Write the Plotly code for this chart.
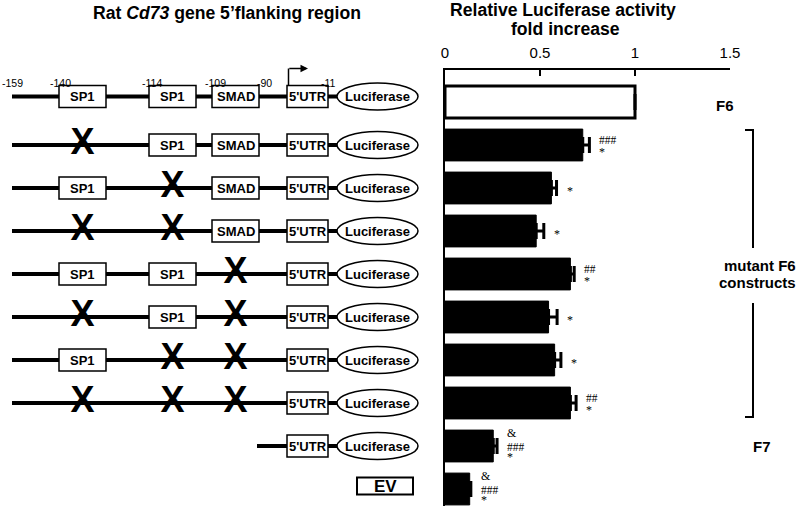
import plotly.graph_objects as go

# ---------------- data ----------------
constructs = ["F6", "mSP1a", "mSP1b", "mSP1a+b", "mSMAD", "mSP1a+SMAD",
              "mSP1b+SMAD", "mSP1a+b+SMAD", "F7", "EV"]
activity = [1.00, 0.725, 0.56, 0.48, 0.66, 0.545, 0.577, 0.66, 0.254, 0.13]
activity_sem = [0.0, 0.035, 0.027, 0.04, 0.02, 0.045, 0.033, 0.03, 0.02, 0.006]
sig_amp = ["", "", "", "", "", "", "", "", "&", "&"]
sig_hash = ["", "###", "", "", "##", "", "", "##", "###", "###"]
sig_star = ["", "*", "*", "*", "*", "*", "*", "*", "*", "*"]
site_names = ["SP1", "SP1", "SMAD"]
site_present = [[1, 1, 1], [0, 1, 1], [1, 0, 1], [0, 0, 1],
                [1, 1, 0], [0, 1, 0], [1, 0, 0], [0, 0, 0]]
coord_labels = ["-159", "-140", "-114", "-109", "-90", "-11"]
tick_vals = [0, 0.5, 1, 1.5]
tick_text = ["0", "0.5", "1", "1.5"]

# ---------------- layout constants (pixels) ----------------
W, H = 800, 506
ROW0_PX, ROW_PX, AXIS_TOP_PX = 102, 43, 70
BAR_L_PX, BAR_R_PX = 445, 730
F6_DIAG_SHIFT_PX = -5.5
LINE_START_PX, F7_LINE_START_PX = 12, 257
SITE_X = [82.5, 172.5, 235.5]
SITE_HW = 23.5
UTR_X, UTR_HW = 307.5, 20.5
LUC_X, LUC_HW, LUC_HH = 377.5, 40.5, 13.5
BOX_HH = 11
COORD_X = [12.5, 60, 151.5, 215, 264, 328]
ARROW_X0, ARROW_X1 = 288.5, 308
EV_X, EV_HW, EV_HH = 385, 28, 8.5
FONT = "Liberation Sans, Arial, sans-serif"
SERIF = "Liberation Serif, Times New Roman, serif"
# vertical pixel offsets (up = +) of significance symbols, by number of symbol lines
SIG_SHIFT = {1: {"*": -2.5},
             2: {"#": 5, "*": -7},
             3: {"&": 13, "#": -1, "*": -10.5}}
SIG_SIZE = {"&": 12, "#": 11.5, "*": 12}


def r2(row, dpx=0.0):
    return row + dpx / ROW_PX


def txt(text, x, y, size, xref="x2", yref="y2", xanchor="center", yanchor="middle",
        family=FONT, **kw):
    d = dict(xref=xref, yref=yref, x=x, y=y, text=text, showarrow=False,
             xanchor=xanchor, yanchor=yanchor,
             font=dict(family=family, size=size, color="black"))
    d.update(kw)
    return d


fig = go.Figure()

# ---------------- bars ----------------
fig.add_trace(go.Bar(
    x=activity, y=constructs, orientation="h", width=0.74,
    marker=dict(color=["white"] + ["black"] * (len(activity) - 1),
                line=dict(color="black", width=[3] + [1] * (len(activity) - 1))),
    error_x=dict(type="data", array=activity_sem, arrayminus=[0] * len(activity),
                 symmetric=False, color="black", thickness=3, width=8),
    xaxis="x", yaxis="y", showlegend=False, hoverinfo="skip",
))

shapes = []
annotations = []

# ---------------- construct diagrams ----------------
x_marks_x, x_marks_y = [], []
for r in range(9):
    dy = F6_DIAG_SHIFT_PX if r == 0 else 0
    yc = r2(r, dy)
    x0 = LINE_START_PX if r < 8 else F7_LINE_START_PX
    shapes.append(dict(type="line", xref="x2", yref="y2", x0=x0, x1=LUC_X,
                       y0=yc, y1=yc, line=dict(color="black", width=4), layer="below"))
    if r < 8:
        for k, name in enumerate(site_names):
            if site_present[r][k]:
                shapes.append(dict(type="rect", xref="x2", yref="y2",
                                   x0=SITE_X[k] - SITE_HW, x1=SITE_X[k] + SITE_HW,
                                   y0=r2(r, dy - BOX_HH), y1=r2(r, dy + BOX_HH),
                                   fillcolor="white", line=dict(color="black", width=1.5),
                                   layer="below"))
                annotations.append(txt("<b>%s</b>" % name, SITE_X[k], yc, 13))
            else:
                x_marks_x.append(SITE_X[k])
                x_marks_y.append(yc)
    shapes.append(dict(type="rect", xref="x2", yref="y2",
                       x0=UTR_X - UTR_HW, x1=UTR_X + UTR_HW,
                       y0=r2(r, dy - BOX_HH), y1=r2(r, dy + BOX_HH),
                       fillcolor="white", line=dict(color="black", width=1.5), layer="below"))
    annotations.append(txt("<b>5'UTR</b>", UTR_X, yc, 13))
    shapes.append(dict(type="circle", xref="x2", yref="y2",
                       x0=LUC_X - LUC_HW, x1=LUC_X + LUC_HW,
                       y0=r2(r, dy - LUC_HH), y1=r2(r, dy + LUC_HH),
                       fillcolor="white", line=dict(color="black", width=1.5), layer="below"))
    annotations.append(txt("<b>Luciferase</b>", LUC_X, yc, 13))

fig.add_trace(go.Scatter(
    x=x_marks_x, y=x_marks_y, mode="text", text=["<b>X</b>"] * len(x_marks_x),
    textfont=dict(family=FONT, size=36, color="black"), textposition="middle center",
    xaxis="x2", yaxis="y2", showlegend=False, hoverinfo="skip",
))

# coordinate labels and transcription start arrow for F6
for lbl, cx in zip(coord_labels, COORD_X):
    annotations.append(txt(lbl, cx, r2(0, F6_DIAG_SHIFT_PX - 14), 10.5))
arrow_y = r2(0, F6_DIAG_SHIFT_PX - 28)
shapes.append(dict(type="line", xref="x2", yref="y2", x0=ARROW_X0, x1=ARROW_X0,
                   y0=r2(0, F6_DIAG_SHIFT_PX - BOX_HH), y1=arrow_y,
                   line=dict(color="black", width=1.5)))
annotations.append(dict(xref="x2", yref="y2", axref="x2", ayref="y2",
                        x=ARROW_X1, y=arrow_y, ax=ARROW_X0 - 0.7, ay=arrow_y, text="",
                        showarrow=True, arrowhead=2, arrowsize=1, arrowwidth=1.5,
                        arrowcolor="black"))

# empty vector
shapes.append(dict(type="rect", xref="x2", yref="y2", x0=EV_X - EV_HW, x1=EV_X + EV_HW,
                   y0=r2(9, -3 - EV_HH), y1=r2(9, -3 + EV_HH),
                   fillcolor="white", line=dict(color="black", width=2)))
annotations.append(txt("<b>EV</b>", EV_X, r2(9, -3), 17))

# ---------------- significance marks ----------------
for i, c in enumerate(constructs):
    lines = [s for s in (sig_amp[i], sig_hash[i], sig_star[i]) if s]
    for s in lines:
        annotations.append(txt(s, activity[i] + activity_sem[i], c, SIG_SIZE[s[0]],
                               xref="x", yref="y", xanchor="left", family=SERIF,
                               xshift=8, yshift=SIG_SHIFT[len(lines)][s[0]]))

# ---------------- right-hand labels ----------------
annotations.append(txt("<b>F6</b>", 725, 0, 15, yshift=-3))
annotations.append(txt("<b>F7</b>", 762, 8, 15))
shapes.append(dict(type="path", xref="x2", yref="y2",
                   path="M 745,%f L 753,%f L 753,%f M 753,%f L 753,%f L 745,%f" % (
                       r2(1, -15), r2(1, -15), r2(4, -26), r2(4, 29), r2(7, 14), r2(7, 14)),
                   line=dict(color="black", width=2)))
annotations.append(txt("<b>mutant F6</b>", 798, r2(4, -8.5), 15, xanchor="right"))
annotations.append(txt("<b>constructs</b>", 798, r2(4, 8.5), 15, xanchor="right"))

# ---------------- titles ----------------
annotations.append(txt("<b>Rat <i>Cd73</i> gene 5’flanking region</b>", 227 / W, 1 - 13 / H,
                       17.6, xref="paper", yref="paper"))
annotations.append(txt("<b>Relative Luciferase activity</b>", 563 / W, 1 - 10 / H, 17.6,
                       xref="paper", yref="paper"))
annotations.append(txt("<b>fold increase</b>", 565 / W, 1 - 29 / H, 17.6,
                       xref="paper", yref="paper"))

fig.update_layout(
    width=W, height=H, margin=dict(l=0, r=0, t=0, b=0, pad=0, autoexpand=False),
    paper_bgcolor="white", plot_bgcolor="rgba(0,0,0,0)",
    font=dict(family=FONT, color="black"),
    showlegend=False,
    xaxis=dict(domain=[BAR_L_PX / W, BAR_R_PX / W], range=[0, 1.5], side="top",
               anchor="y", showline=True, linecolor="black", linewidth=2,
               ticks="inside", ticklen=6, tickwidth=2, tickcolor="black",
               tickvals=tick_vals, ticktext=tick_text, ticklabelstandoff=4,
               tickfont=dict(family=FONT, size=15, color="black"),
               showgrid=False, zeroline=False, fixedrange=True, automargin=False),
    yaxis=dict(domain=[0, 1 - AXIS_TOP_PX / H], type="category",
               categoryorder="array", categoryarray=constructs,
               range=[(H - ROW0_PX) / ROW_PX, (AXIS_TOP_PX - ROW0_PX) / ROW_PX],
               anchor="x", showline=True, linecolor="black", linewidth=2,
               showticklabels=False, ticks="", showgrid=False, zeroline=False,
               fixedrange=True, automargin=False),
    xaxis2=dict(domain=[0, 1], range=[0, W], anchor="y2", visible=False,
                fixedrange=True, automargin=False),
    yaxis2=dict(domain=[0, 1], range=[(H - ROW0_PX) / ROW_PX, -ROW0_PX / ROW_PX],
                anchor="x2", visible=False, fixedrange=True, automargin=False),
    shapes=shapes, annotations=annotations,
)

fig.write_html(
    "out.html",
    config={"responsive": False, "displayModeBar": False},
    post_script="document.body.style.margin='0px';document.body.style.overflow='hidden';",
)
